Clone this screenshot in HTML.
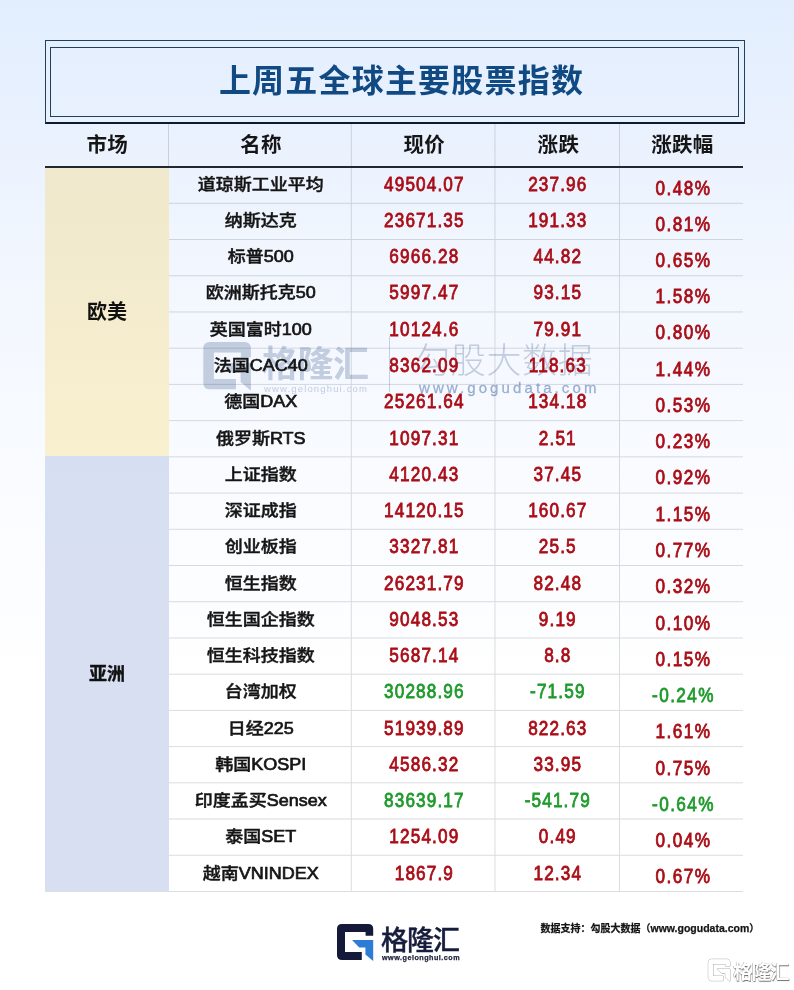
<!DOCTYPE html><html><head><meta charset="utf-8"><title>上周五全球主要股票指数</title><style>
*{margin:0;padding:0;box-sizing:border-box}
html,body{width:794px;height:990px;overflow:hidden}
body{position:relative;background:linear-gradient(180deg,#e2eefe 0px,#e9f1fe 120px,#f1f6fe 250px,#f7faff 420px,#fcfdff 580px,#ffffff 700px);font-family:"Liberation Sans","Noto Sans CJK SC",sans-serif}
.a{position:absolute}
.t{position:absolute;white-space:nowrap;text-align:center}
.ob{left:45px;top:40px;width:700px;height:84px;border:1px solid #1f405e;border-bottom:2px solid #0b1a30}
.ib{left:50px;top:47px;width:689px;height:70px;border:1px solid #1f405e}
.ttl{left:46.5px;width:710px;top:57px;height:48px;line-height:48px;font-size:32px;font-weight:700;color:#114a83;letter-spacing:1.2px}
.hd{top:124px;height:42px;line-height:42px;font-size:20.5px;font-weight:700;color:#161616;letter-spacing:0.3px}
.nm{font-size:18px;font-weight:500;color:#151515;-webkit-text-stroke:0.45px #151515;transform:scaleY(0.91)}
.nm span{-webkit-text-stroke:0.75px #151515}
.nu{font-size:19.5px;font-weight:400;-webkit-text-stroke:0.8px currentColor;transform:scaleX(0.88);letter-spacing:1.3px;padding-left:1.3px}
.r{color:#aa0d16}.g{color:#1f9a2c}
.pc{letter-spacing:1.6px;padding-left:1.6px}
.mk{font-size:20px;font-weight:700;color:#111}
</style></head><body>
<div class="a" style="left:45px;top:168px;width:124px;height:288.04px;background:linear-gradient(180deg,#efe8cc,#f9f0cf)"></div>
<div class="a" style="left:45px;top:456.04px;width:124px;height:435.44px;background:linear-gradient(180deg,#d6dff1,#d9dff2)"></div>
<svg class="a" style="left:0;top:0" width="794" height="990" viewBox="0 0 794 990"><g transform="translate(203.30 342.00) scale(1.3150) translate(-337 -924)" ><path d="M342 924 L368.2 924 Q373.2 924 373.2 929 L373.2 935.7 L365.6 935.7 L365.6 932 L345 932 L345 952.1 L361.8 952.1 L361.8 960 L342 960 Q337 960 337 955 L337 929 Q337 924 342 924 Z" fill="rgba(135,155,190,0.47)"/><path d="M352 940 L373.2 940 L373.2 961 L365.4 954.4 L365.4 947.6 L359.3 947.6 Z" fill="rgba(135,155,190,0.47)"/></g><rect x="389" y="336.5" width="1" height="55.5" fill="rgba(140,165,205,0.5)"/></svg>
<div class="t" style="left:262px;top:339.5px;height:50px;line-height:50px;font-size:36px;font-weight:700;color:rgba(135,155,190,0.47);letter-spacing:-0.5px">格隆汇</div>
<div class="t" style="left:264px;top:382px;height:14px;line-height:14px;font-size:9.5px;font-weight:400;color:rgba(140,160,195,0.5);letter-spacing:1.15px">www.gelonghui.com</div>
<div class="t" style="left:415px;top:335.5px;height:50px;line-height:50px;font-size:35px;font-weight:300;color:rgba(135,155,190,0.47);letter-spacing:0.7px">勾股大数据</div>
<div class="t" style="left:419px;top:378px;height:20px;line-height:20px;font-size:15px;font-weight:700;color:rgba(110,140,190,0.65);letter-spacing:3.1px;font-weight:400;-webkit-text-stroke:0.3px rgba(110,140,190,0.5)">www.gogudata.com</div>
<svg class="a" style="left:0;top:0" width="794" height="990" viewBox="0 0 794 990"><g opacity="0.14">
<rect x="169.00" y="202.80" width="574.00" height="1" fill="#0a0f1a"/>
<rect x="169.00" y="239.02" width="574.00" height="1" fill="#0a0f1a"/>
<rect x="169.00" y="275.24" width="574.00" height="1" fill="#0a0f1a"/>
<rect x="169.00" y="311.46" width="574.00" height="1" fill="#0a0f1a"/>
<rect x="169.00" y="347.68" width="574.00" height="1" fill="#0a0f1a"/>
<rect x="169.00" y="383.90" width="574.00" height="1" fill="#0a0f1a"/>
<rect x="169.00" y="420.12" width="574.00" height="1" fill="#0a0f1a"/>
<rect x="169.00" y="456.34" width="574.00" height="1" fill="#0a0f1a"/>
<rect x="169.00" y="492.56" width="574.00" height="1" fill="#0a0f1a"/>
<rect x="169.00" y="528.78" width="574.00" height="1" fill="#0a0f1a"/>
<rect x="169.00" y="565.00" width="574.00" height="1" fill="#0a0f1a"/>
<rect x="169.00" y="601.22" width="574.00" height="1" fill="#0a0f1a"/>
<rect x="169.00" y="637.44" width="574.00" height="1" fill="#0a0f1a"/>
<rect x="169.00" y="673.66" width="574.00" height="1" fill="#0a0f1a"/>
<rect x="169.00" y="709.88" width="574.00" height="1" fill="#0a0f1a"/>
<rect x="169.00" y="746.10" width="574.00" height="1" fill="#0a0f1a"/>
<rect x="169.00" y="782.32" width="574.00" height="1" fill="#0a0f1a"/>
<rect x="169.00" y="818.54" width="574.00" height="1" fill="#0a0f1a"/>
<rect x="169.00" y="854.76" width="574.00" height="1" fill="#0a0f1a"/>
<rect x="45.00" y="890.98" width="698.00" height="1" fill="#0a0f1a"/>
<rect x="168.00" y="124" width="1" height="42" fill="#0a0f1a"/>
<rect x="350.80" y="124" width="1" height="42" fill="#0a0f1a"/>
<rect x="350.80" y="168" width="1" height="722.98" fill="#0a0f1a"/>
<rect x="494.45" y="124" width="1" height="42" fill="#0a0f1a"/>
<rect x="494.45" y="168" width="1" height="722.98" fill="#0a0f1a"/>
<rect x="618.95" y="124" width="1" height="42" fill="#0a0f1a"/>
<rect x="618.95" y="168" width="1" height="722.98" fill="#0a0f1a"/>
</g><rect x="45" y="166" width="698" height="2" fill="#222831"/>
</svg>
<div class="a ob"></div><div class="a ib"></div>
<div class="t ttl">上周五全球主要股票指数</div>
<div class="t hd" style="left:45.50px;width:123.50px">市场</div>
<div class="t hd" style="left:169.70px;width:182.80px">名称</div>
<div class="t hd" style="left:352.50px;width:143.65px">现价</div>
<div class="t hd" style="left:496.15px;width:124.50px">涨跌</div>
<div class="t hd" style="left:620.65px;width:123.55px">涨跌幅</div>
<div class="t mk" style="left:45px;width:124px;top:296.92px;height:30px;line-height:30px;font-size:20px;">欧美</div>
<div class="t mk" style="left:45px;width:124px;top:658.66px;height:30px;line-height:30px;font-size:18px;-webkit-text-stroke:0.35px #111">亚洲</div>
<div class="t nm" style="left:169.40px;width:182.80px;top:169.90px;height:30px;line-height:30px">道琼斯工业平均</div>
<div class="t nu r" style="left:351.60px;width:143.65px;top:168.90px;height:30px;line-height:30px">49504.07</div>
<div class="t nu r" style="left:495.45px;width:124.50px;top:168.90px;height:30px;line-height:30px">237.96</div>
<div class="t nu pc r" style="left:621.05px;width:123.55px;top:172.60px;height:30px;line-height:30px">0.48%</div>
<div class="t nm" style="left:169.40px;width:182.80px;top:205.95px;height:30px;line-height:30px">纳斯达克</div>
<div class="t nu r" style="left:351.60px;width:143.65px;top:204.95px;height:30px;line-height:30px">23671.35</div>
<div class="t nu r" style="left:495.45px;width:124.50px;top:204.95px;height:30px;line-height:30px">191.33</div>
<div class="t nu pc r" style="left:621.05px;width:123.55px;top:208.65px;height:30px;line-height:30px">0.81%</div>
<div class="t nm" style="left:169.40px;width:182.80px;top:242.21px;height:30px;line-height:30px">标普<span>500</span></div>
<div class="t nu r" style="left:351.60px;width:143.65px;top:241.21px;height:30px;line-height:30px">6966.28</div>
<div class="t nu r" style="left:495.45px;width:124.50px;top:241.21px;height:30px;line-height:30px">44.82</div>
<div class="t nu pc r" style="left:621.05px;width:123.55px;top:244.91px;height:30px;line-height:30px">0.65%</div>
<div class="t nm" style="left:169.40px;width:182.80px;top:278.48px;height:30px;line-height:30px">欧洲斯托克<span>50</span></div>
<div class="t nu r" style="left:351.60px;width:143.65px;top:277.48px;height:30px;line-height:30px">5997.47</div>
<div class="t nu r" style="left:495.45px;width:124.50px;top:277.48px;height:30px;line-height:30px">93.15</div>
<div class="t nu pc r" style="left:621.05px;width:123.55px;top:281.18px;height:30px;line-height:30px">1.58%</div>
<div class="t nm" style="left:169.40px;width:182.80px;top:314.74px;height:30px;line-height:30px">英国富时<span>100</span></div>
<div class="t nu r" style="left:351.60px;width:143.65px;top:313.74px;height:30px;line-height:30px">10124.6</div>
<div class="t nu r" style="left:495.45px;width:124.50px;top:313.74px;height:30px;line-height:30px">79.91</div>
<div class="t nu pc r" style="left:621.05px;width:123.55px;top:317.44px;height:30px;line-height:30px">0.80%</div>
<div class="t nm" style="left:169.40px;width:182.80px;top:351.00px;height:30px;line-height:30px">法国<span>CAC40</span></div>
<div class="t nu r" style="left:351.60px;width:143.65px;top:350.00px;height:30px;line-height:30px">8362.09</div>
<div class="t nu r" style="left:495.45px;width:124.50px;top:350.00px;height:30px;line-height:30px">118.63</div>
<div class="t nu pc r" style="left:621.05px;width:123.55px;top:353.70px;height:30px;line-height:30px">1.44%</div>
<div class="t nm" style="left:169.40px;width:182.80px;top:387.26px;height:30px;line-height:30px">德国<span>DAX</span></div>
<div class="t nu r" style="left:351.60px;width:143.65px;top:386.26px;height:30px;line-height:30px">25261.64</div>
<div class="t nu r" style="left:495.45px;width:124.50px;top:386.26px;height:30px;line-height:30px">134.18</div>
<div class="t nu pc r" style="left:621.05px;width:123.55px;top:389.96px;height:30px;line-height:30px">0.53%</div>
<div class="t nm" style="left:169.40px;width:182.80px;top:423.52px;height:30px;line-height:30px">俄罗斯<span>RTS</span></div>
<div class="t nu r" style="left:351.60px;width:143.65px;top:422.52px;height:30px;line-height:30px">1097.31</div>
<div class="t nu r" style="left:495.45px;width:124.50px;top:422.52px;height:30px;line-height:30px">2.51</div>
<div class="t nu pc r" style="left:621.05px;width:123.55px;top:426.22px;height:30px;line-height:30px">0.23%</div>
<div class="t nm" style="left:169.40px;width:182.80px;top:459.79px;height:30px;line-height:30px">上证指数</div>
<div class="t nu r" style="left:351.60px;width:143.65px;top:458.79px;height:30px;line-height:30px">4120.43</div>
<div class="t nu r" style="left:495.45px;width:124.50px;top:458.79px;height:30px;line-height:30px">37.45</div>
<div class="t nu pc r" style="left:621.05px;width:123.55px;top:462.49px;height:30px;line-height:30px">0.92%</div>
<div class="t nm" style="left:169.40px;width:182.80px;top:496.05px;height:30px;line-height:30px">深证成指</div>
<div class="t nu r" style="left:351.60px;width:143.65px;top:495.05px;height:30px;line-height:30px">14120.15</div>
<div class="t nu r" style="left:495.45px;width:124.50px;top:495.05px;height:30px;line-height:30px">160.67</div>
<div class="t nu pc r" style="left:621.05px;width:123.55px;top:498.75px;height:30px;line-height:30px">1.15%</div>
<div class="t nm" style="left:169.40px;width:182.80px;top:532.31px;height:30px;line-height:30px">创业板指</div>
<div class="t nu r" style="left:351.60px;width:143.65px;top:531.31px;height:30px;line-height:30px">3327.81</div>
<div class="t nu r" style="left:495.45px;width:124.50px;top:531.31px;height:30px;line-height:30px">25.5</div>
<div class="t nu pc r" style="left:621.05px;width:123.55px;top:535.01px;height:30px;line-height:30px">0.77%</div>
<div class="t nm" style="left:169.40px;width:182.80px;top:568.57px;height:30px;line-height:30px">恒生指数</div>
<div class="t nu r" style="left:351.60px;width:143.65px;top:567.57px;height:30px;line-height:30px">26231.79</div>
<div class="t nu r" style="left:495.45px;width:124.50px;top:567.57px;height:30px;line-height:30px">82.48</div>
<div class="t nu pc r" style="left:621.05px;width:123.55px;top:571.27px;height:30px;line-height:30px">0.32%</div>
<div class="t nm" style="left:169.40px;width:182.80px;top:604.84px;height:30px;line-height:30px">恒生国企指数</div>
<div class="t nu r" style="left:351.60px;width:143.65px;top:603.84px;height:30px;line-height:30px">9048.53</div>
<div class="t nu r" style="left:495.45px;width:124.50px;top:603.84px;height:30px;line-height:30px">9.19</div>
<div class="t nu pc r" style="left:621.05px;width:123.55px;top:607.54px;height:30px;line-height:30px">0.10%</div>
<div class="t nm" style="left:169.40px;width:182.80px;top:641.10px;height:30px;line-height:30px">恒生科技指数</div>
<div class="t nu r" style="left:351.60px;width:143.65px;top:640.10px;height:30px;line-height:30px">5687.14</div>
<div class="t nu r" style="left:495.45px;width:124.50px;top:640.10px;height:30px;line-height:30px">8.8</div>
<div class="t nu pc r" style="left:621.05px;width:123.55px;top:643.80px;height:30px;line-height:30px">0.15%</div>
<div class="t nm" style="left:169.40px;width:182.80px;top:677.36px;height:30px;line-height:30px">台湾加权</div>
<div class="t nu g" style="left:351.60px;width:143.65px;top:676.36px;height:30px;line-height:30px">30288.96</div>
<div class="t nu g" style="left:495.45px;width:124.50px;top:676.36px;height:30px;line-height:30px">-71.59</div>
<div class="t nu pc g" style="left:621.05px;width:123.55px;top:680.06px;height:30px;line-height:30px">-0.24%</div>
<div class="t nm" style="left:169.40px;width:182.80px;top:713.62px;height:30px;line-height:30px">日经<span>225</span></div>
<div class="t nu r" style="left:351.60px;width:143.65px;top:712.62px;height:30px;line-height:30px">51939.89</div>
<div class="t nu r" style="left:495.45px;width:124.50px;top:712.62px;height:30px;line-height:30px">822.63</div>
<div class="t nu pc r" style="left:621.05px;width:123.55px;top:716.32px;height:30px;line-height:30px">1.61%</div>
<div class="t nm" style="left:169.40px;width:182.80px;top:749.88px;height:30px;line-height:30px">韩国<span>KOSPI</span></div>
<div class="t nu r" style="left:351.60px;width:143.65px;top:748.88px;height:30px;line-height:30px">4586.32</div>
<div class="t nu r" style="left:495.45px;width:124.50px;top:748.88px;height:30px;line-height:30px">33.95</div>
<div class="t nu pc r" style="left:621.05px;width:123.55px;top:752.58px;height:30px;line-height:30px">0.75%</div>
<div class="t nm" style="left:169.40px;width:182.80px;top:786.15px;height:30px;line-height:30px">印度孟买<span>Sensex</span></div>
<div class="t nu g" style="left:351.60px;width:143.65px;top:785.15px;height:30px;line-height:30px">83639.17</div>
<div class="t nu g" style="left:495.45px;width:124.50px;top:785.15px;height:30px;line-height:30px">-541.79</div>
<div class="t nu pc g" style="left:621.05px;width:123.55px;top:788.85px;height:30px;line-height:30px">-0.64%</div>
<div class="t nm" style="left:169.40px;width:182.80px;top:822.41px;height:30px;line-height:30px">泰国<span>SET</span></div>
<div class="t nu r" style="left:351.60px;width:143.65px;top:821.41px;height:30px;line-height:30px">1254.09</div>
<div class="t nu r" style="left:495.45px;width:124.50px;top:821.41px;height:30px;line-height:30px">0.49</div>
<div class="t nu pc r" style="left:621.05px;width:123.55px;top:825.11px;height:30px;line-height:30px">0.04%</div>
<div class="t nm" style="left:169.40px;width:182.80px;top:858.67px;height:30px;line-height:30px">越南<span>VNINDEX</span></div>
<div class="t nu r" style="left:351.60px;width:143.65px;top:857.67px;height:30px;line-height:30px">1867.9</div>
<div class="t nu r" style="left:495.45px;width:124.50px;top:857.67px;height:30px;line-height:30px">12.34</div>
<div class="t nu pc r" style="left:621.05px;width:123.55px;top:861.37px;height:30px;line-height:30px">0.67%</div>
<svg class="a" style="left:0;top:0" width="794" height="990" viewBox="0 0 794 990">
<g transform="translate(337.00 924.00) scale(1.0000) translate(-337 -924)" ><path d="M342 924 L368.2 924 Q373.2 924 373.2 929 L373.2 935.7 L365.6 935.7 L365.6 932 L345 932 L345 952.1 L361.8 952.1 L361.8 960 L342 960 Q337 960 337 955 L337 929 Q337 924 342 924 Z" fill="#151a3b"/><path d="M352 940 L373.2 940 L373.2 961 L365.4 954.4 L365.4 947.6 L359.3 947.6 Z" fill="#2f7cd5"/></g>
<g transform="translate(708.30 959.20) scale(0.6000) translate(-337 -924)" stroke="rgba(110,110,110,0.7)" stroke-width="1.3" paint-order="stroke"><path d="M342 924 L368.2 924 Q373.2 924 373.2 929 L373.2 935.7 L365.6 935.7 L365.6 932 L345 932 L345 952.1 L361.8 952.1 L361.8 960 L342 960 Q337 960 337 955 L337 929 Q337 924 342 924 Z" fill="#ffffff"/><path d="M352 940 L373.2 940 L373.2 961 L365.4 954.4 L365.4 947.6 L359.3 947.6 Z" fill="#ffffff"/></g>
</svg>
<div class="t" style="left:381px;top:922px;height:38px;line-height:38px;font-size:27px;font-weight:500;color:#161c3c;letter-spacing:-1px;-webkit-text-stroke:0.4px #161c3c">格隆汇</div>
<div class="t" style="left:382px;top:952px;height:12px;line-height:12px;font-size:7.2px;font-weight:700;color:#1c2138;letter-spacing:0.5px;-webkit-text-stroke:0.25px #1c2138">www.gelonghui.com</div>
<div class="t" style="left:540.5px;top:917.8px;height:20px;line-height:20px;font-size:10px;font-weight:700;color:#151515;-webkit-text-stroke:0.25px #151515">数据支持：勾股大数据（<span style="font-size:10.5px">www.gogudata.com</span>）</div>
<div class="t" style="left:733px;top:956.5px;height:30px;line-height:30px;font-size:19.5px;font-weight:700;color:#fff;letter-spacing:-1px;text-shadow:0.6px 0.6px 0.8px rgba(0,0,0,0.55),-0.4px -0.4px 0.6px rgba(0,0,0,0.35)">格隆汇</div>
</body></html>
